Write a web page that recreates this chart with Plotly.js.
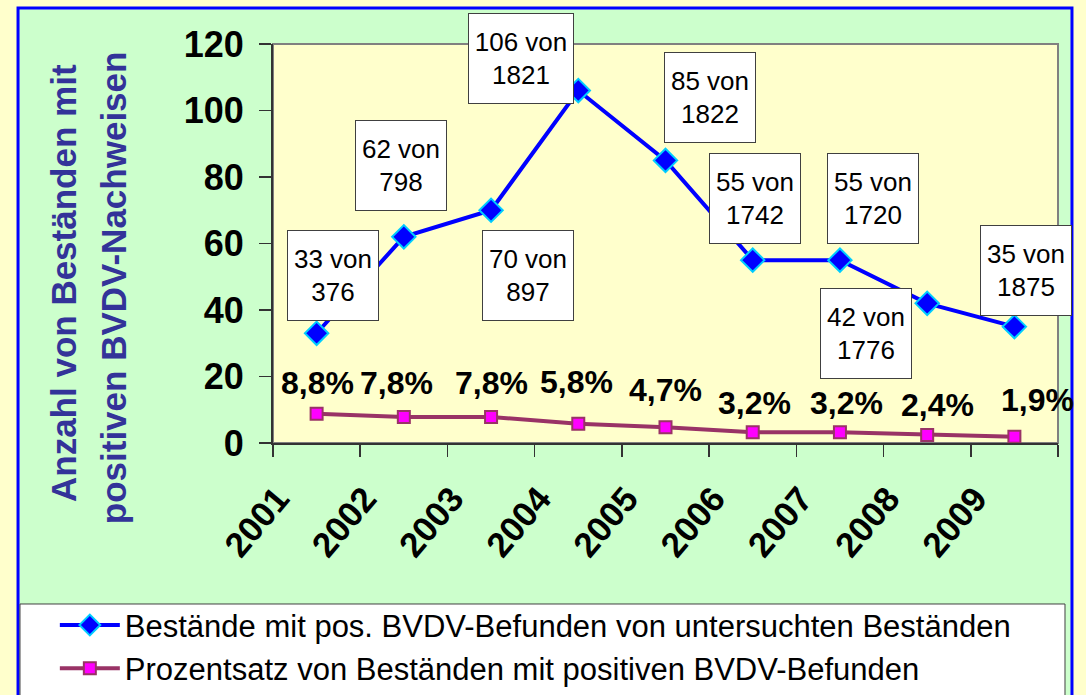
<!DOCTYPE html>
<html>
<head>
<meta charset="utf-8">
<script src="https://cdn.plot.ly/plotly-3.0.1.min.js"></script>
<style>html,body{margin:0;padding:0;background:#FFFFCC;}#chart{width:1086px;height:695px;}</style>
</head>
<body>
<div id="chart"></div>
<script>
// ---- data ----
var years = ['2001','2002','2003','2004','2005','2006','2007','2008','2009'];
var positiveHerds = [33, 62, 70, 106, 85, 55, 55, 42, 35];
var testedHerds = [376, 798, 897, 1821, 1822, 1742, 1720, 1776, 1875];
var percentPositive = [8.8, 7.8, 7.8, 5.8, 4.7, 3.2, 3.2, 2.4, 1.9];
var percentLabels = ['8,8%', '7,8%', '7,8%', '5,8%', '4,7%', '3,2%', '3,2%', '2,4%', '1,9%'];
var seriesNames = ['Bestände mit pos. BVDV-Befunden von untersuchten Beständen',
                   'Prozentsatz von Beständen mit positiven BVDV-Befunden'];

// ---- label placement (layout only) ----
var boxY = [50.4, 83.6, 50.4, 115.6, 103.9, 73.5, 73.5, 32.9, 51.9];
var boxShift = [16, -3, 37, -57, 44, 2, 33, -61, 12];
var pctY = [18.0, 18.0, 18.0, 18.2, 15.9, 12.0, 12.0, 11.4, 12.9];
var pctShift = [1, -7, 0, -2, 0, 2, 7, 10, 23];

var FONT = 'Liberation Sans, Arial, sans-serif';

var traces = [
  {
    x: years, y: positiveHerds, type: 'scatter', mode: 'lines+markers', name: seriesNames[0],
    line: {color: '#0000FF', width: 4},
    marker: {symbol: 'diamond', size: 18, color: '#0000FF', line: {color: '#00CCFF', width: 2}},
    hoverinfo: 'skip'
  },
  {
    x: years, y: percentPositive, type: 'scatter', mode: 'lines+markers', name: seriesNames[1],
    line: {color: '#993366', width: 4},
    marker: {symbol: 'square', size: 12, color: '#FF00FF', line: {color: '#993366', width: 2}},
    hoverinfo: 'skip'
  }
];

var annotations = [];
for (var i = 0; i < years.length; i++) {
  annotations.push({
    x: i, y: boxY[i], xref: 'x', yref: 'y', xshift: boxShift[i],
    xanchor: 'center', yanchor: 'middle',
    text: positiveHerds[i] + ' von<br>' + testedHerds[i], showarrow: false,
    font: {family: FONT, size: 26, color: '#000'},
    bgcolor: '#FFFFFF', bordercolor: '#404040', borderwidth: 1, borderpad: 1,
    width: (positiveHerds[i] >= 100 ? 102 : 88), height: 87, align: 'center'
  });
  annotations.push({
    x: i, y: pctY[i], xref: 'x', yref: 'y', xshift: pctShift[i],
    xanchor: 'center', yanchor: 'middle',
    text: percentLabels[i], showarrow: false,
    font: {family: FONT, size: 32, color: '#000', weight: 'bold'}
  });
}
annotations.push({
  xref: 'paper', yref: 'paper', x: -0.2675, y: 0.401, xanchor: 'center', yanchor: 'middle',
  textangle: -90, showarrow: false,
  text: 'Anzahl von Beständen mit', font: {family: FONT, size: 35, color: '#333399', weight: 'bold'}
});
annotations.push({
  xref: 'paper', yref: 'paper', x: -0.2038, y: 0.388, xanchor: 'center', yanchor: 'middle',
  textangle: -90, showarrow: false,
  text: 'positiven BVDV-Nachweisen', font: {family: FONT, size: 35, color: '#333399', weight: 'bold'}
});

var shapes = [
  {type: 'rect', xref: 'paper', yref: 'paper', x0: -0.3248, x1: 1.0178, y0: -0.75, y1: 1.0902,
   fillcolor: '#CCFFCC', line: {color: '#0000FF', width: 3}, layer: 'below'},
  {type: 'rect', xref: 'paper', yref: 'paper', x0: 0, x1: 1, y0: 0, y1: 1,
   fillcolor: '#FFFFCC', line: {color: '#808080', width: 2}, layer: 'below'},
  {type: 'rect', xref: 'paper', yref: 'paper', x0: -0.3223, x1: 1.0089, y0: -0.74, y1: -0.4035,
   fillcolor: '#FFFFFF', line: {color: '#404040', width: 1}, layer: 'below'}
];

var layout = {
  width: 1086, height: 695,
  margin: {l: 273, r: 28, t: 44, b: 252, autoexpand: false},
  paper_bgcolor: '#FFFFCC', plot_bgcolor: 'rgba(0,0,0,0)',
  showlegend: true,
  legend: {xref: 'container', yref: 'container', x: 0.0505, y: 0.139, xanchor: 'left', yanchor: 'top',
           bgcolor: 'rgba(0,0,0,0)',
           font: {family: FONT, size: 31, color: '#000'}, itemwidth: 60, tracegroupgap: 0},
  xaxis: {type: 'category', range: [-0.5, 8.5], tickson: 'boundaries', ticks: 'outside', ticklen: 12,
          tickwidth: 1.5, tickcolor: '#333333', showline: true, linecolor: '#333333', linewidth: 2,
          showgrid: false, zeroline: false, tickangle: -50, ticklabelshift: -39, ticklabelstandoff: 19,
          tickfont: {family: FONT, size: 35, color: '#000', weight: 'bold'}, fixedrange: true},
  yaxis: {range: [0, 120], dtick: 20, ticks: 'outside', ticklen: 12, tickwidth: 1.5, tickcolor: '#333333',
          showline: true, linecolor: '#333333', linewidth: 2, showgrid: false, zeroline: false,
          ticklabelstandoff: 8, tickfont: {family: FONT, size: 36, color: '#000', weight: 'bold'}, fixedrange: true},
  annotations: annotations,
  shapes: shapes
};

Plotly.newPlot('chart', traces, layout, {displayModeBar: false, staticPlot: true});
</script>
</body>
</html>
